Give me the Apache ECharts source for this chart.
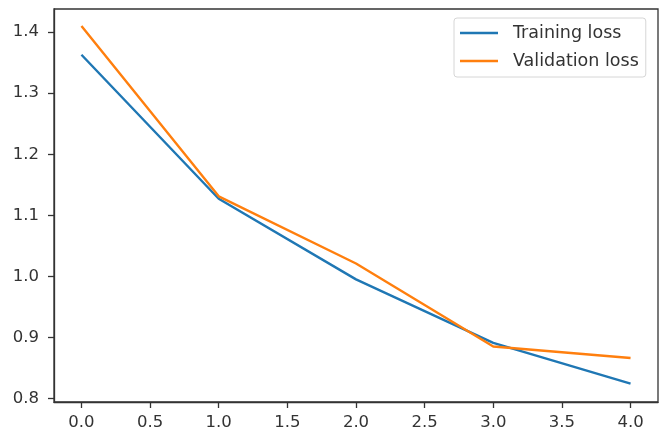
<!DOCTYPE html>
<html>
<head>
<meta charset="utf-8">
<script src="https://cdn.jsdelivr.net/npm/echarts@6/dist/echarts.min.js"></script>
<style>
html,body{margin:0;padding:0;background:#fff;}
#chart{width:669px;height:435px;}
</style>
</head>
<body>
<div id="chart"></div>
<script>
const epochs = [0, 1, 2, 3, 4];
const trainingLoss = [1.363, 1.127, 0.995, 0.891, 0.824];
const validationLoss = [1.410, 1.131, 1.021, 0.885, 0.866];
const xTicks = [0, 0.5, 1, 1.5, 2, 2.5, 3, 3.5, 4];
const yTicks = [0.8, 0.9, 1.0, 1.1, 1.2, 1.3, 1.4];

const chart = echarts.init(document.getElementById('chart'));
const font = 'DejaVu Sans';
const axisCommon = {
  axisLine: {show: true, onZero: false, lineStyle: {color: '#333', width: 1.3}},
  axisTick: {show: true, inside: false, length: 6, lineStyle: {color: '#333', width: 1.3}},
  splitLine: {show: false},
};
chart.setOption({
  animation: false,
  backgroundColor: '#fff',
  grid: {left: 54, right: 11, top: 9, bottom: 33, show: true, borderColor: '#333', borderWidth: 1.3, containLabel: false},
  legend: {
    orient: 'vertical',
    left: 454, top: 18,
    backgroundColor: '#fff',
    borderColor: '#d6d6d6', borderWidth: 1, borderRadius: 3,
    padding: [5, 7, 6, 6],
    itemWidth: 38, itemHeight: 2.4, itemGap: 8,
    icon: 'rect',
    textStyle: {fontFamily: font, fontSize: 17.5, color: '#333', lineHeight: 20, padding: [0, 0, 0, 10]},
    data: ['Training loss', 'Validation loss']
  },
  xAxis: Object.assign({}, axisCommon, {
    type: 'value', min: -0.2, max: 4.2,
    axisTick: Object.assign({}, axisCommon.axisTick, {customValues: xTicks}),
    axisLabel: {customValues: xTicks, fontFamily: font, fontSize: 16.5, color: '#333', margin: 12,
      formatter: v => v.toFixed(1)}
  }),
  yAxis: Object.assign({}, axisCommon, {
    type: 'value', min: 0.794, max: 1.438,
    axisTick: Object.assign({}, axisCommon.axisTick, {customValues: yTicks}),
    axisLabel: {customValues: yTicks, fontFamily: font, fontSize: 16.5, color: '#333', margin: 15,
      formatter: v => v.toFixed(1)}
  }),
  series: [
    {name: 'Training loss', type: 'line', data: epochs.map((e, i) => [e, trainingLoss[i]]),
     showSymbol: false, symbol: 'none', color: '#1f77b4', lineStyle: {width: 2.4, color: '#1f77b4'}},
    {name: 'Validation loss', type: 'line', data: epochs.map((e, i) => [e, validationLoss[i]]),
     showSymbol: false, symbol: 'none', color: '#ff7f0e', lineStyle: {width: 2.4, color: '#ff7f0e'}}
  ]
});
</script>
</body>
</html>
